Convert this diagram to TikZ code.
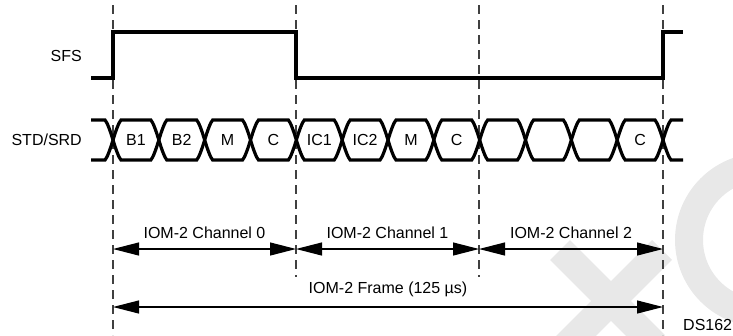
\documentclass[tikz,border=0pt]{standalone}
\usepackage{fontspec}
\setmainfont{Liberation Sans}
\usetikzlibrary{arrows.meta,calc}
\begin{document}
\begin{tikzpicture}[x=1pt,y=-1pt,
  sig/.style={line width=3.2pt,line join=miter},
  guide/.style={draw=black!75,line width=1.3pt,dash pattern=on 9pt off 6pt},
  span/.style={{Triangle[length=26pt,width=13pt]}-{Triangle[length=26pt,width=13pt]},line width=1.1pt},
  lbl/.style={font=\fontsize{16}{19}\selectfont,inner sep=0pt},
  wmark/.style={draw=black!9,line width=28pt}
]
  \useasboundingbox (0,0) rectangle (733,335);
  \clip (0,0) rectangle (733,335);
  \begin{scope}[wmark]
    \draw (560,250) -- (655,345);
    \draw (662,250) -- (565,347);
    \draw (762,240) circle (73);
  \end{scope}
  \foreach \n/\x/\yb in {0/113/335,1/296/277,2/479/277,3/663/335} {
    \coordinate (g\n) at (\x,5);
    \coordinate (b\n) at (\x,\yb);
    \coordinate (h\n) at (\x,249);
    \draw[guide] (g\n) -- (b\n);
  }
  \coordinate (f0) at (113,307);
  \coordinate (f3) at (663,307);
  \node[lbl,anchor=east] (sfs) at (82,56) {SFS};
  \node[lbl,anchor=east] (std) at (82,140) {STD/SRD};
  \draw[sig] (91,78) -- (113,78) -- (113,32) -- (296,32) -- (296,78) -- (663,78) -- (663,32) -- (683,32);
  \draw[sig] (91,120) -- (105,120) .. controls (107,122) and (110,130) .. (113,140) .. controls (110,150) and (107,158) .. (105,160) -- (91,160);
  \draw[sig] (683,120) -- (671,120) .. controls (669,122) and (666,130) .. (663,140) .. controls (666,150) and (669,158) .. (671,160) -- (683,160);
  \foreach \i/\txt in {0/B1,1/B2,2/M,3/C,4/IC1,5/IC2,6/M,7/C,8/,9/,10/,11/C} {
    \pgfmathsetmacro{\xa}{113+\i*45.8333}
    \pgfmathsetmacro{\xb}{\xa+45.8333}
    \draw[sig] (\xa,140) .. controls (\xa+3,130) and (\xa+6,122) .. (\xa+8,120) -- (\xb-8,120)
      .. controls (\xb-6,122) and (\xb-3,130) .. (\xb,140)
      .. controls (\xb-3,150) and (\xb-6,158) .. (\xb-8,160) -- (\xa+8,160)
      .. controls (\xa+6,158) and (\xa+3,150) .. (\xa,140);
    \node[lbl] (d\i) at ({\xa+22.92},140) {\txt};
  }
  \draw[span] (h0) -- (h1);
  \draw[span] (h1) -- (h2);
  \draw[span] (h2) -- (h3);
  \draw[span] (f0) -- (f3);
  \node[lbl] (ch0) at (204.5,233) {IOM-2 Channel 0};
  \node[lbl] (ch1) at (387.5,233) {IOM-2 Channel 1};
  \node[lbl] (ch2) at (571,233) {IOM-2 Channel 2};
  \node[lbl] (frame) at (388,289) {IOM-2 Frame (125 µs)};
  \node[lbl,anchor=west] (ds) at (683,325) {DS162};
\end{tikzpicture}
\end{document}
